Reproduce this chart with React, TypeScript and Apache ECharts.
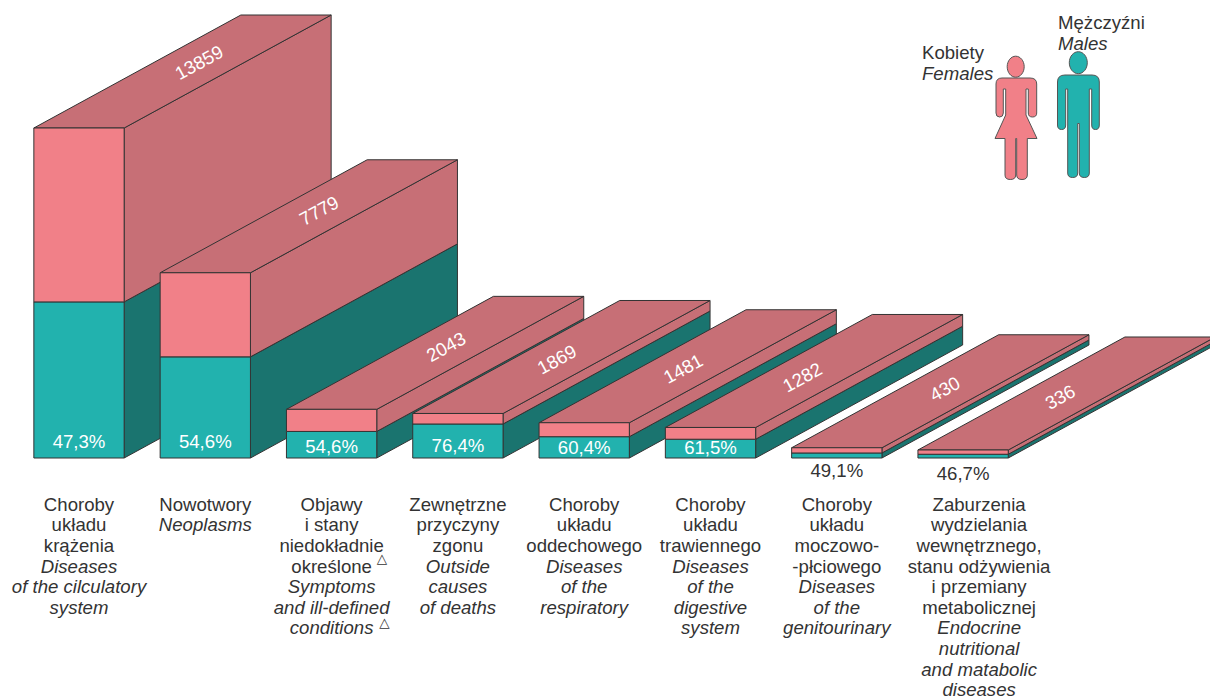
import React, { useEffect, useRef } from "react";
import * as echarts from "echarts";

const namesPl = [
  "Choroby\nukładu\nkrążenia",
  "Nowotwory",
  "Objawy\ni stany\nniedokładnie\nokreślone",
  "Zewnętrzne\nprzyczyny\nzgonu",
  "Choroby\nukładu\noddechowego",
  "Choroby\nukładu\ntrawiennego",
  "Choroby\nukładu\nmoczowo-\n-płciowego",
  "Zaburzenia\nwydzielania\nwewnętrznego,\nstanu odżywienia\ni przemiany\nmetabolicznej",
];
const namesEn = [
  "Diseases\nof the cilculatory\nsystem",
  "Neoplasms",
  "Symptoms\nand ill-defined\nconditions",
  "Outside\ncauses\nof deaths",
  "Diseases\nof the\nrespiratory",
  "Diseases\nof the\ndigestive\nsystem",
  "Diseases\nof the\ngenitourinary",
  "Endocrine\nnutritional\nand matabolic\ndiseases",
];
const totals = [13859, 7779, 2043, 1869, 1481, 1282, 430, 336];
const malePercent = [47.3, 54.6, 54.6, 76.4, 60.4, 61.5, 49.1, 46.7];

const percentOffsetY = [-17, -17, -12, -13, -11, -11, 12, 15];
const totalLabelAlong = [0.58, 0.55, 0.553, 0.478, 0.478, 0.444, 0.522, 0.469];
const COLORS = {
  front: "#F18088",
  side: "#C76F76",
  teal: "#22B2AE",
  darkTeal: "#1A746F",
  line: "#333333",
  text: "#333333",
};
const DEPTH_X = 207;
const DEPTH_Y = -113;
const FONT = '"Liberation Sans", Arial, sans-serif';
const FONT_SIZE = 18.6;

const FEMALE =
  "M996 84 Q996 78 1002 78 L1030 78 Q1036.7 78 1036.7 84 L1036.7 113 Q1036.7 117 1032.5 117 Q1028.3 117 1028.3 113 L1028.3 89 L1026 89 L1026 115 L1037 138.5 L1027.3 138.5 L1027.3 175 Q1027.3 179.5 1022 179.5 Q1016.7 179.5 1016.7 175 L1016.7 138.5 L1015.7 138.5 L1015.7 175 Q1015.7 179.5 1010.3 179.5 Q1005 179.5 1005 175 L1005 138.5 L995 138.5 L1005.7 115 L1005.7 89 L1003.3 89 L1003.3 113 Q1003.3 117 999.6 117 Q996 117 996 113 Z";
const MALE =
  "M1057.5 82 Q1057.5 75 1065 75 L1092 75 Q1099.3 75 1099.3 82 L1099.3 125 Q1099.3 129.5 1095.5 129.5 Q1091.7 129.5 1091.7 125 L1091.7 89 L1089.3 89 L1089.3 173 Q1089.3 177.5 1084.3 177.5 Q1079.3 177.5 1079.3 173 L1079.3 123.5 L1077.7 123.5 L1077.7 173 Q1077.7 177.5 1072.7 177.5 Q1067.7 177.5 1067.7 173 L1067.7 89 L1065.7 89 L1065.7 125 Q1065.7 129.5 1061.6 129.5 Q1057.5 129.5 1057.5 125 Z";

echarts.graphic.registerShape("femaleFigure", echarts.graphic.extendPath(FEMALE, {}));
echarts.graphic.registerShape("maleFigure", echarts.graphic.extendPath(MALE, {}));

const toRich = (text: string, key: string) =>
  text
    .split("\n")
    .map((l) => `{${key}|${l}}`)
    .join("\n");

export default function App() {
  const ref = useRef<HTMLDivElement>(null);
  useEffect(() => {
    document.body.style.margin = "0";
    const chart = echarts.init(ref.current!, undefined, { renderer: "svg" });
    const categories = namesPl.map((p, i) => `${p}|${namesEn[i]}`);

    const renderItem = (_: any, api: any) => {
      const i = api.value(0);
      const total = api.value(1);
      const pct = api.value(2);
      const w = api.size([1, 0])[0] * 0.715;
      const [cx, y0] = api.coord([i, 0]);
      const [, yTop] = api.coord([i, total]);
      const [, yMid] = api.coord([i, (total * pct) / 100]);
      const l = cx - w / 2;
      const r = cx + w / 2;
      const dx = DEPTH_X;
      const dy = DEPTH_Y;
      const poly = (points: number[][], fill: string) => ({
        type: "polygon",
        shape: { points },
        style: { fill, stroke: COLORS.line, lineWidth: 1 },
      });
      const pctText = pct.toFixed(1).replace(".", ",") + "%";
      const inside = percentOffsetY[i] < 0;
      return {
        type: "group",
        children: [
          poly([[r, yMid], [r + dx, yMid + dy], [r + dx, y0 + dy], [r, y0]], COLORS.darkTeal),
          poly([[r, yTop], [r + dx, yTop + dy], [r + dx, yMid + dy], [r, yMid]], COLORS.side),
          poly([[l, yTop], [l + dx, yTop + dy], [r + dx, yTop + dy], [r, yTop]], COLORS.side),
          poly([[l, yMid], [r, yMid], [r, y0], [l, y0]], COLORS.teal),
          poly([[l, yTop], [r, yTop], [r, yMid], [l, yMid]], COLORS.front),
          {
            type: "text",
            x: cx,
            y: y0 + percentOffsetY[i],
            style: {
              text: pctText,
              fill: inside ? "#FFFFFF" : COLORS.text,
              font: `${FONT_SIZE}px ${FONT}`,
              align: "center",
              verticalAlign: "middle",
            },
          },
          {
            type: "text",
            x: cx + dx * totalLabelAlong[i],
            y: yTop + dy * totalLabelAlong[i],
            rotation: Math.atan2(-dy, dx),
            style: {
              text: String(total),
              fill: "#FFFFFF",
              font: `${FONT_SIZE}px ${FONT}`,
              align: "center",
              verticalAlign: "middle",
            },
          },
        ],
      };
    };

    const textStyle = (extra: any) => ({
      fontFamily: FONT,
      fontSize: FONT_SIZE,
      lineHeight: 20.6,
      color: COLORS.text,
      ...extra,
    });

    chart.setOption({
      animation: false,
      grid: { left: 15.85, width: 1010.4, top: 128, height: 330, outerBoundsMode: "none" },
      xAxis: {
        type: "category",
        data: categories,
        axisLine: { show: false },
        axisTick: { show: false },
        axisLabel: {
          interval: 0,
          margin: 36,
          align: "center",
          hideOverlap: false,
          formatter: (v: string, idx: number) => {
            const [pl, en] = v.split("|");
            const s = idx === 7 ? "Shift" : "";
            return toRich(pl, "pl" + s) + "\n" + toRich(en, "en" + s);
          },
          rich: {
            pl: textStyle({}),
            en: textStyle({ fontStyle: "italic" }),
            plShift: textStyle({ padding: [0, 0, 0, 32] }),
            enShift: textStyle({ fontStyle: "italic", padding: [0, 0, 0, 32] }),
          },
        },
      },
      yAxis: { type: "value", show: false, min: 0, max: 13859 },
      series: [
        {
          type: "custom",
          renderItem,
          clip: false,
          silent: true,
          data: totals.map((t, i) => [i, t, malePercent[i]]),
        },
      ],
      graphic: [
        { type: "femaleFigure", x: 0, y: 0, silent: true, style: { fill: COLORS.front, stroke: "#555555", lineWidth: 1 } },
        { type: "maleFigure", x: 0, y: 0, silent: true, style: { fill: COLORS.teal, stroke: "#555555", lineWidth: 1 } },
        { type: "ellipse", silent: true, shape: { cx: 1015.7, cy: 66.7, rx: 8.5, ry: 10.5 }, style: { fill: COLORS.front, stroke: "#555555", lineWidth: 1 } },
        { type: "ellipse", silent: true, shape: { cx: 1078.3, cy: 62.7, rx: 9, ry: 11 }, style: { fill: COLORS.teal, stroke: "#555555", lineWidth: 1 } },
        { type: "text", x: 922, y: 52, silent: true, style: { text: "Kobiety", fill: COLORS.text, font: `${FONT_SIZE}px ${FONT}`, verticalAlign: "middle" } },
        { type: "text", x: 922, y: 73.5, silent: true, style: { text: "Females", fill: COLORS.text, font: `italic ${FONT_SIZE}px ${FONT}`, verticalAlign: "middle" } },
        { type: "text", x: 1058, y: 22, silent: true, style: { text: "Mężczyźni", fill: COLORS.text, font: `${FONT_SIZE}px ${FONT}`, verticalAlign: "middle" } },
        { type: "text", x: 1058, y: 43.5, silent: true, style: { text: "Males", fill: COLORS.text, font: `italic ${FONT_SIZE}px ${FONT}`, verticalAlign: "middle" } },
        { type: "text", x: 382, y: 557.5, silent: true, style: { text: "△", fill: COLORS.text, font: `13.5px "DejaVu Sans"`, align: "center", verticalAlign: "middle" } },
        { type: "text", x: 384.5, y: 621.5, silent: true, style: { text: "△", fill: COLORS.text, font: `13.5px "DejaVu Sans"`, align: "center", verticalAlign: "middle" } },
      ],
    });
    return () => chart.dispose();
  }, []);
  return <div ref={ref} style={{ width: 1210, height: 700, overflow: "hidden" }} />;
}
